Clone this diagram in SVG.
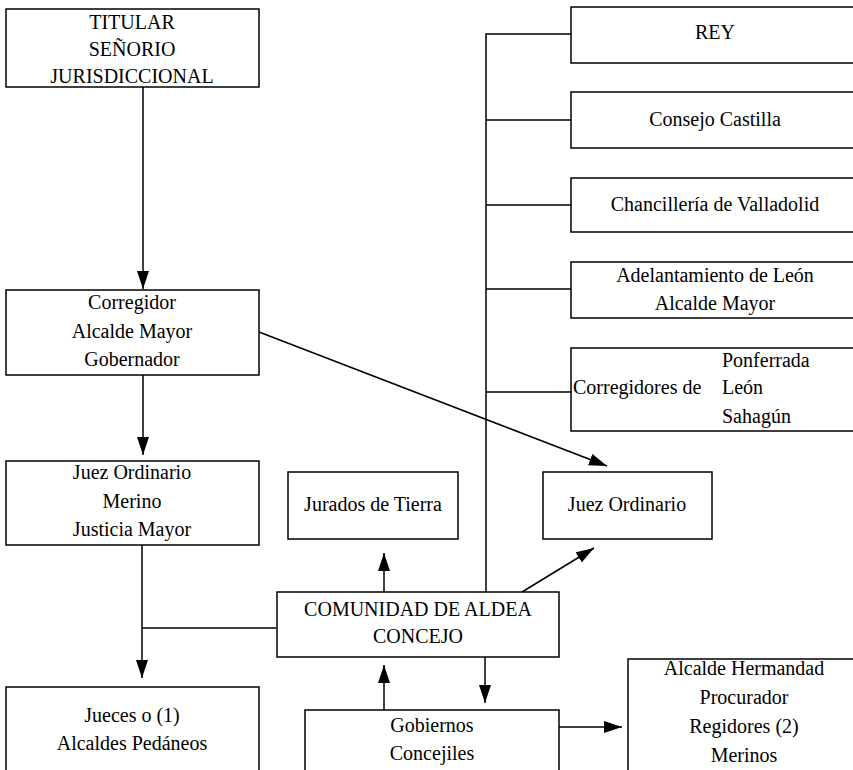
<svg xmlns="http://www.w3.org/2000/svg" width="853" height="770" viewBox="0 0 853 770">
<defs>
<marker id="ah" markerUnits="userSpaceOnUse" markerWidth="20" markerHeight="14" refX="18" refY="6" orient="auto">
<path d="M0,0 L18,6 L0,12 z" fill="#000"/>
</marker>
<style>
.box{fill:#fff;stroke:#000;stroke-width:1.5}
.t{font-family:'Liberation Serif','DejaVu Serif',serif;font-size:20px;fill:#000;text-anchor:middle}
.l{font-family:'Liberation Serif','DejaVu Serif',serif;font-size:20px;fill:#000}
.c{fill:none;stroke:#000;stroke-width:1.5}
.a{fill:none;stroke:#000;stroke-width:1.5;marker-end:url(#ah)}
</style>
</defs>
<rect width="853" height="770" fill="#fff"/>
<g id="connectors">
<path class="a" d="M143,87 V289"/>
<path class="a" d="M143,375 V455"/>
<path class="a" d="M259,332 L607,466"/>
<path class="c" d="M142,545 V628 H276"/>
<path class="a" d="M142,628 V678"/>
<path class="a" d="M384,592 V553"/>
<path class="a" d="M522,592 L594,548"/>
<path class="c" d="M486,592 V34 H571 M486,120 H571 M486,205 H571 M486,289 H571 M486,392 H571"/>
<path class="a" d="M485,657 V703"/>
<path class="a" d="M384,710 V665"/>
<path class="a" d="M559,727 H622"/>
</g>
<g id="titular">
<rect class="box" x="6" y="9" width="253" height="78"/>
<text class="t" x="132" y="29" font-family="Liberation Serif, DejaVu Serif, serif">TITULAR</text>
<text class="t" x="132" y="56" font-family="Liberation Serif, DejaVu Serif, serif">SEÑORIO</text>
<text class="t" x="132" y="83" font-family="Liberation Serif, DejaVu Serif, serif">JURISDICCIONAL</text>
</g>
<g id="corregidor">
<rect class="box" x="6" y="290" width="253" height="85"/>
<text class="t" x="132" y="309">Corregidor</text>
<text class="t" x="132" y="338">Alcalde Mayor</text>
<text class="t" x="132" y="366">Gobernador</text>
</g>
<g id="juez-ordinario-merino">
<rect class="box" x="6" y="461" width="253" height="84"/>
<text class="t" x="132" y="479">Juez Ordinario</text>
<text class="t" x="132" y="508">Merino</text>
<text class="t" x="132" y="536">Justicia Mayor</text>
</g>
<g id="jueces">
<rect class="box" x="6" y="687" width="253" height="100"/>
<text class="t" x="132" y="722">Jueces o (1)</text>
<text class="t" x="132" y="750">Alcaldes Pedáneos</text>
</g>
<g id="jurados">
<rect class="box" x="288" y="472" width="170" height="67"/>
<text class="t" x="373" y="511">Jurados de Tierra</text>
</g>
<g id="comunidad">
<rect class="box" x="277" y="592" width="282" height="65"/>
<text class="t" x="418" y="616">COMUNIDAD DE ALDEA</text>
<text class="t" x="418" y="643">CONCEJO</text>
</g>
<g id="gobiernos">
<rect class="box" x="305" y="710" width="254" height="80"/>
<text class="t" x="432" y="732">Gobiernos</text>
<text class="t" x="432" y="760">Concejiles</text>
</g>
<g id="alcalde-hermandad">
<rect class="box" x="628" y="659" width="232" height="130"/>
<text class="t" x="744" y="675">Alcalde Hermandad</text>
<text class="t" x="744" y="704">Procurador</text>
<text class="t" x="744" y="733">Regidores (2)</text>
<text class="t" x="744" y="762">Merinos</text>
</g>
<g id="juez-ordinario">
<rect class="box" x="543" y="472" width="169" height="67"/>
<text class="t" x="627" y="511">Juez Ordinario</text>
</g>
<g id="rey">
<rect class="box" x="571" y="7" width="290" height="56"/>
<text class="t" x="715" y="39">REY</text>
</g>
<g id="consejo">
<rect class="box" x="571" y="92" width="290" height="56"/>
<text class="t" x="715" y="126">Consejo Castilla</text>
</g>
<g id="chancilleria">
<rect class="box" x="571" y="178" width="290" height="54"/>
<text class="t" x="715" y="211">Chancillería de Valladolid</text>
</g>
<g id="adelantamiento">
<rect class="box" x="571" y="262" width="290" height="56"/>
<text class="t" x="715" y="282">Adelantamiento de León</text>
<text class="t" x="715" y="310">Alcalde Mayor</text>
</g>
<g id="corregidores">
<rect class="box" x="571" y="348" width="290" height="83"/>
<text class="l" x="573" y="394">Corregidores de</text>
<text class="l" x="722" y="367">Ponferrada</text>
<text class="l" x="722" y="394">León</text>
<text class="l" x="722" y="423">Sahagún</text>
</g>
</svg>
